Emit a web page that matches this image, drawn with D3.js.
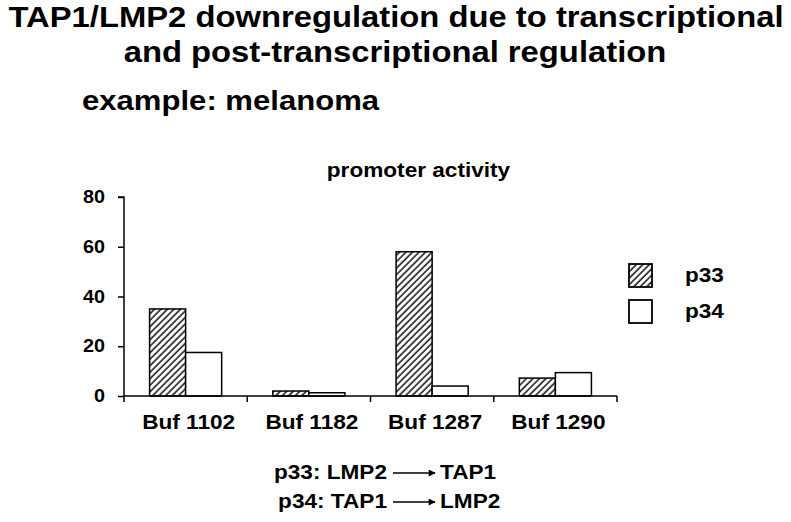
<!DOCTYPE html>
<html>
<head>
<meta charset="utf-8">
<script src="https://cdn.jsdelivr.net/npm/d3@7"></script>
<style>
  body { margin: 0; background: #fff; }
  text { font-family: "Liberation Sans", Arial, Helvetica, sans-serif; font-weight: bold; fill: #000; }
</style>
</head>
<body>
<div id="chart"></div>
<script>
// data
var cells = ["Buf 1102", "Buf 1182", "Buf 1287", "Buf 1290"];
var seriesNames = ["p33", "p34"];
var p33 = [35, 2, 58, 7.2];
var p34 = [17.5, 1.3, 4, 9.4];
var yTicks = [0, 20, 40, 60, 80];

var width = 791, height = 522;
var SX = 1.13; // the original lettering is a bit wider than Arial

var svg = d3.select("#chart").append("svg")
  .attr("width", width)
  .attr("height", height);

// widen text so it matches the reference's letter widths
function widen(sel, sx) {
  sel.each(function() {
    var w = this.getComputedTextLength();
    d3.select(this).attr("textLength", (w * sx).toFixed(1)).attr("lengthAdjust", "spacingAndGlyphs");
  });
}

// hatch pattern
var defs = svg.append("defs");
defs.append("pattern")
  .attr("id", "hatch")
  .attr("patternUnits", "userSpaceOnUse")
  .attr("width", 4.6)
  .attr("height", 10)
  .attr("patternTransform", "rotate(45)")
  .call(function(p) {
    p.append("rect").attr("width", 4.6).attr("height", 10).attr("fill", "#fff");
    p.append("line").attr("x1", 1).attr("x2", 1).attr("y1", 0).attr("y2", 10)
      .attr("stroke", "#000").attr("stroke-width", 1.4);
  });
defs.append("marker")
  .attr("id", "arrow")
  .attr("viewBox", "0 0 10 10")
  .attr("refX", 9).attr("refY", 5)
  .attr("markerUnits", "userSpaceOnUse")
  .attr("markerWidth", 9).attr("markerHeight", 7)
  .attr("orient", "auto")
  .append("path").attr("d", "M0,0 L10,5 L0,10 Z").attr("fill", "#000");

var fills = {p33: "url(#hatch)", p34: "#fff"};

// titles
var titles = [
  {t: "TAP1/LMP2 downregulation due to transcriptional", x: 396, y: 27, s: 29, a: "middle"},
  {t: "and post-transcriptional regulation", x: 395, y: 62, s: 29, a: "middle"},
  {t: "example: melanoma", x: 82, y: 110, s: 27.5, a: "start"},
  {t: "promoter activity", x: 418.5, y: 177, s: 20, a: "middle"}
];
svg.selectAll("text.title").data(titles).enter().append("text")
  .attr("class", "title")
  .attr("x", function(d) { return d.x; })
  .attr("y", function(d) { return d.y; })
  .attr("text-anchor", function(d) { return d.a; })
  .style("font-size", function(d) { return d.s + "px"; })
  .text(function(d) { return d.t; })
  .call(widen, SX);

// scales
var x = d3.scaleBand().domain(cells).range([124, 617]).paddingInner(0).paddingOuter(0);
var xs = d3.scaleBand().domain(seriesNames).range([0, x.bandwidth()]).paddingInner(0).paddingOuter(0.71);
var y = d3.scaleLinear().domain([0, 80]).range([396, 197]);

// bars
var rows = cells.map(function(c, i) { return {cell: c, values: [{k: "p33", v: p33[i]}, {k: "p34", v: p34[i]}]}; });
var g = svg.selectAll("g.cell").data(rows).enter().append("g")
  .attr("class", "cell")
  .attr("transform", function(d) { return "translate(" + x(d.cell) + ",0)"; });
g.selectAll("rect").data(function(d) { return d.values; }).enter().append("rect")
  .attr("x", function(d) { return xs(d.k); })
  .attr("y", function(d) { return y(d.v); })
  .attr("width", xs.bandwidth())
  .attr("height", function(d) { return y(0) - y(d.v); })
  .attr("fill", function(d) { return fills[d.k]; })
  .attr("stroke", "#000")
  .attr("stroke-width", 1.5);

// y axis
var yAxis = svg.append("g")
  .attr("transform", "translate(124,0)")
  .call(d3.axisLeft(y).tickValues(yTicks).tickSize(6).tickPadding(13).tickFormat(d3.format("d")));
yAxis.selectAll("path, line").attr("stroke", "#000").attr("stroke-width", 1.5);
yAxis.select(".domain").attr("d", "M-6,197H0V396");
yAxis.selectAll("text").style("font-size", "17.5px").attr("fill", "#000")
  .style("font-family", "'Liberation Sans', Arial, sans-serif").style("font-weight", "bold")
  .call(widen, SX);

// x axis: ticks at category boundaries
var xAxis = svg.append("g").attr("transform", "translate(0,396)");
xAxis.append("line").attr("x1", 124).attr("x2", 617).attr("stroke", "#000").attr("stroke-width", 1.5);
var bounds = cells.map(function(c) { return x(c); }).concat([x(cells[cells.length - 1]) + x.bandwidth()]);
xAxis.selectAll("line.tick").data(bounds).enter().append("line")
  .attr("class", "tick")
  .attr("x1", function(d) { return d; }).attr("x2", function(d) { return d; })
  .attr("y1", 0).attr("y2", 6)
  .attr("stroke", "#000").attr("stroke-width", 1.5);
xAxis.selectAll("text").data(cells).enter().append("text")
  .attr("x", function(d) { return x(d) + x.bandwidth() / 2 + 3; })
  .attr("y", 33)
  .attr("text-anchor", "middle")
  .style("font-size", "20px")
  .text(function(d) { return d; })
  .call(widen, SX);

// legend
var leg = svg.selectAll("g.legend").data(seriesNames).enter().append("g")
  .attr("class", "legend")
  .attr("transform", function(d, i) { return "translate(629," + (264 + i * 36) + ")"; });
leg.append("rect")
  .attr("width", 23).attr("height", 23)
  .attr("fill", function(d) { return fills[d]; })
  .attr("stroke", "#000").attr("stroke-width", 1.8);
leg.append("text")
  .attr("x", 56).attr("y", 18)
  .style("font-size", "20px")
  .text(function(d) { return d; })
  .call(widen, SX);

// promoter legend lines at the bottom
var notes = [
  {lab: "p33: LMP2", to: "TAP1", y: 479},
  {lab: "p34: TAP1", to: "LMP2", y: 508}
];
var n = svg.selectAll("g.note").data(notes).enter().append("g").attr("class", "note");
n.append("text")
  .attr("x", 387).attr("y", function(d) { return d.y; })
  .attr("text-anchor", "end")
  .style("font-size", "20px")
  .text(function(d) { return d.lab; })
  .call(widen, SX);
n.append("line")
  .attr("x1", 393).attr("x2", 435)
  .attr("y1", function(d) { return d.y - 6; }).attr("y2", function(d) { return d.y - 6; })
  .attr("stroke", "#000").attr("stroke-width", 1.5)
  .attr("marker-end", "url(#arrow)");
n.append("text")
  .attr("x", 440).attr("y", function(d) { return d.y; })
  .style("font-size", "20px")
  .text(function(d) { return d.to; })
  .call(widen, SX);
</script>
</body>
</html>
